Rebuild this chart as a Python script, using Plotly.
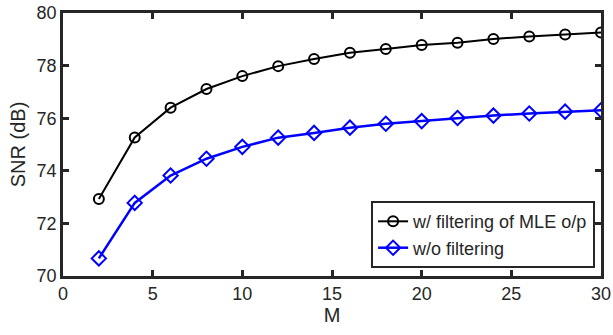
import plotly.graph_objects as go

M = [2, 4, 6, 8, 10, 12, 14, 16, 18, 20, 22, 24, 26, 28, 30]
snr_filtered = [72.93, 75.27, 76.40, 77.11, 77.60, 77.98, 78.25, 78.49, 78.63, 78.78, 78.87, 79.01, 79.11, 79.18, 79.26]
snr_unfiltered = [70.67, 72.78, 73.82, 74.46, 74.91, 75.26, 75.44, 75.64, 75.79, 75.89, 76.01, 76.10, 76.18, 76.25, 76.30]

label_filtered = "w/ filtering of MLE o/p"
label_unfiltered = "w/o filtering"

FONT = "Liberation Sans, Arial, Helvetica, sans-serif"
AX = "#262626"

fig = go.Figure()
fig.add_trace(go.Scatter(
    x=M, y=snr_filtered, name=label_filtered, mode="lines+markers",
    line=dict(color="black", width=2),
    marker=dict(symbol="circle-open", size=10, color="black", line=dict(width=2)),
))
fig.add_trace(go.Scatter(
    x=M, y=snr_unfiltered, name=label_unfiltered, mode="lines+markers",
    line=dict(color="#0000ff", width=2.5),
    marker=dict(symbol="diamond-open", size=11, color="#0000ff", line=dict(width=2)),
))

axis_common = dict(
    showline=True, linecolor=AX, linewidth=2.5, mirror="ticks",
    ticks="inside", ticklen=6, tickwidth=2.5, tickcolor=AX,
    showgrid=False, zeroline=False, automargin=False,
    tickfont=dict(family=FONT, size=18, color=AX),
)

fig.update_layout(
    template="none",
    width=613, height=335,
    margin=dict(l=63, r=12, t=13, b=59, pad=0),
    paper_bgcolor="white", plot_bgcolor="white",
    font=dict(family=FONT, size=18, color=AX),
    xaxis=dict(range=[0, 30], dtick=5, tick0=0,
               title=dict(text="M", font=dict(family=FONT, size=20, color=AX), standoff=2),
               **axis_common),
    yaxis=dict(range=[70, 80], dtick=2, tick0=70,
               title=dict(text="SNR (dB)", font=dict(family=FONT, size=20, color=AX), standoff=6),
               **axis_common),
    legend=dict(
        x=0.989, y=0.03, xanchor="right", yanchor="bottom",
        bgcolor="white", bordercolor=AX, borderwidth=2,
        font=dict(family=FONT, size=18, color=AX),
        itemwidth=30, tracegroupgap=0,
    ),
    showlegend=True,
)

fig.write_html("out.html")
